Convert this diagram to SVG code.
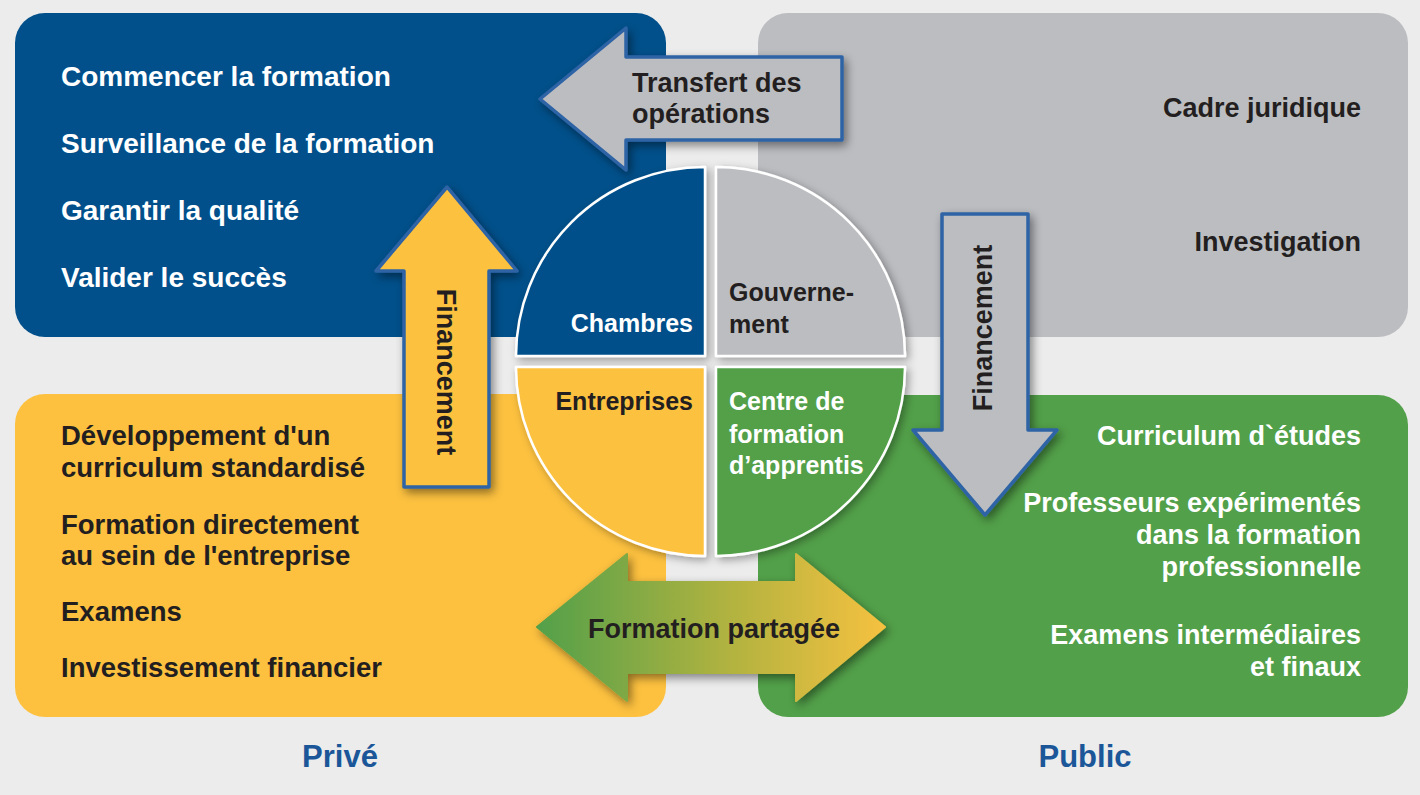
<svg xmlns="http://www.w3.org/2000/svg" width="1420" height="795" viewBox="0 0 1420 795">
<defs>
<style>
text{font-family:"Liberation Sans",Arial,sans-serif;font-weight:bold;}
.w{fill:#ffffff;font-size:27px}
.d{fill:#231f20;font-size:27px}
.big{font-size:28px}
.mb{font-size:27.5px}
.q{font-size:25px}
.end{text-anchor:end}
.mid{text-anchor:middle}
.foot{fill:#1b5699;font-size:31px;text-anchor:middle}
.arrow{stroke:#2e64a5;stroke-width:3.5;stroke-linejoin:round}
.quad{stroke:#ffffff;stroke-width:2.5;stroke-linejoin:round}
</style>
<filter id="sh" x="-30%" y="-30%" width="160%" height="160%">
<feDropShadow dx="3" dy="4" stdDeviation="5" flood-color="#000000" flood-opacity="0.45"/>
</filter>
<filter id="shq" x="-30%" y="-30%" width="160%" height="160%">
<feDropShadow dx="3" dy="3" stdDeviation="4" flood-color="#000000" flood-opacity="0.35"/>
</filter>
<linearGradient id="g" x1="536" y1="0" x2="886" y2="0" gradientUnits="userSpaceOnUse">
<stop offset="0" stop-color="#52a049"/>
<stop offset="0.5" stop-color="#a9b141"/>
<stop offset="1" stop-color="#f6c13f"/>
</linearGradient>
</defs>
<rect width="1420" height="795" fill="#ececec"/>

<g id="panel-prive-haut">
<rect x="15" y="13" width="651" height="324" rx="30" fill="#01508b"/>
<text class="w big" x="61" y="85.5">Commencer la formation</text>
<text class="w big" x="61" y="152.5">Surveillance de la formation</text>
<text class="w big" x="61" y="219.5">Garantir la qualité</text>
<text class="w big" x="61" y="286.5">Valider le succès</text>
</g>

<g id="panel-public-haut">
<rect x="758" y="13" width="650" height="324" rx="30" fill="#bcbdc1"/>
<text class="d end" x="1361" y="116.5">Cadre juridique</text>
<text class="d end" x="1361" y="250.5">Investigation</text>
</g>

<g id="panel-prive-bas">
<rect x="15" y="394" width="651" height="323" rx="30" fill="#fdc13f"/>
<text class="d mb" x="61" y="445">Développement d'un</text>
<text class="d mb" x="61" y="477">curriculum standardisé</text>
<text class="d mb" x="61" y="534">Formation directement</text>
<text class="d mb" x="61" y="565">au sein de l'entreprise</text>
<text class="d mb" x="61" y="620.5">Examens</text>
<text class="d mb" x="61" y="676.5">Investissement financier</text>
</g>

<g id="panel-public-bas">
<rect x="758" y="395" width="650" height="322" rx="30" fill="#52a049"/>
<text class="w end" x="1361" y="445">Curriculum d`études</text>
<text class="w end" x="1361" y="511.5">Professeurs expérimentés</text>
<text class="w end" x="1361" y="544">dans la formation</text>
<text class="w end" x="1361" y="576">professionnelle</text>
<text class="w end" x="1361" y="644">Examens intermédiaires</text>
<text class="w end" x="1361" y="676">et finaux</text>
</g>

<g id="label-prive"><text class="foot" x="340" y="767">Privé</text></g>
<g id="label-public"><text class="foot" x="1085" y="767">Public</text></g>

<g id="connectors">
<g id="arrow-transfert">
<path class="arrow" filter="url(#sh)" fill="#bcbdc1" d="M540,99 L626,28 L626,57 L842,57 L842,140 L626,140 L626,170 Z"/>
<text class="d" x="632" y="91.5">Transfert des</text>
<text class="d" x="632" y="123">opérations</text>
</g>
<g id="arrow-financement-prive">
<path class="arrow" filter="url(#sh)" fill="#fdc13f" d="M447,187 L517,271 L489,271 L489,487 L404,487 L404,271 L376,271 Z"/>
<text class="d mid" transform="translate(437,372) rotate(90)">Financement</text>
</g>
<g id="arrow-financement-public">
<path class="arrow" filter="url(#sh)" fill="#bcbdc1" d="M942,214 L1028,214 L1028,430 L1057,430 L985,515 L913,430 L942,430 Z"/>
<text class="d mid" transform="translate(992,328) rotate(-90)">Financement</text>
</g>
<g id="arrow-formation-partagee">
<path filter="url(#sh)" fill="url(#g)" stroke="url(#g)" stroke-width="2" stroke-linejoin="round" d="M537,627 L627,554 L627,582 L796,582 L796,554 L885,627 L796,701 L796,673 L627,673 L627,701 Z"/>
<text class="d mid" x="714" y="638">Formation partagée</text>
</g>
</g>

<g id="node-chambres">
<path class="quad" filter="url(#shq)" fill="#01508b" d="M705,356 L516,356 A189,189 0 0 1 705,167 Z"/>
<text class="w q end" x="693" y="332">Chambres</text>
</g>
<g id="node-gouvernement">
<path class="quad" filter="url(#shq)" fill="#bcbdc1" d="M716,356 L716,167 A189,189 0 0 1 905,356 Z"/>
<text class="d q" x="729" y="301">Gouverne-</text>
<text class="d q" x="729" y="333">ment</text>
</g>
<g id="node-entreprises">
<path class="quad" filter="url(#shq)" fill="#fdc13f" d="M705,367 L705,556 A189,189 0 0 1 516,367 Z"/>
<text class="d q end" x="693" y="409.5">Entreprises</text>
</g>
<g id="node-centre">
<path class="quad" filter="url(#shq)" fill="#52a049" d="M716,367 L905,367 A189,189 0 0 1 716,556 Z"/>
<text class="w q" x="729" y="410">Centre de</text>
<text class="w q" x="729" y="442.5">formation</text>
<text class="w q" x="729" y="473.5">d’apprentis</text>
</g>
</svg>
